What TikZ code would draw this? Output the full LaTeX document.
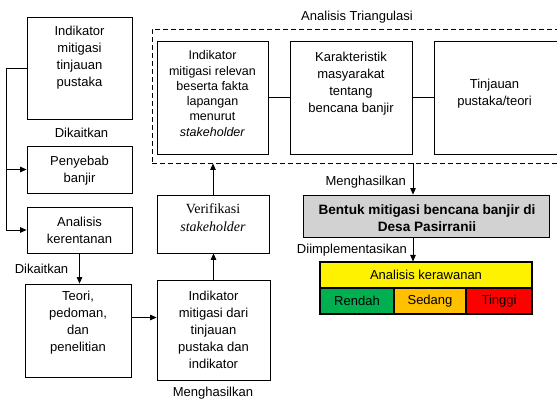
\documentclass[tikz,border=0pt]{standalone}
\usepackage{fontspec}
\setmainfont{Liberation Sans}
\newfontfamily\serifv{Liberation Serif}
\usetikzlibrary{arrows.meta}
\begin{document}
\begin{tikzpicture}[x=1pt,y=-1pt,
  box/.style={draw, line width=0.8pt, inner sep=0pt},
  txt/.style={align=center, inner sep=0pt, font=\fontsize{13}{17}\selectfont},
  lbl/.style={inner sep=0pt, font=\fontsize{13}{17}\selectfont},
  cell/.style={draw, line width=1.1pt, inner sep=0pt, font=\fontsize{13}{17}\selectfont},
  ln/.style={line width=0.9pt},
  arr/.style={line width=0.9pt, -{Triangle[length=6.5pt,width=5.5pt]}},
  dashbox/.style={draw, line width=0.9pt, dash pattern=on 5pt off 3pt, inner sep=0pt}]
\clip (0,0) rectangle (557,401);
\fill[white] (0,0) rectangle (557,401);
% left column boxes
\node[box, minimum width=105pt, minimum height=102pt] (b1) at (79.5,68) {};
\node[txt] (t1) at (79.5,57.5) {Indikator\\mitigasi\\tinjauan\\pustaka};
\node[box, minimum width=105pt, minimum height=47pt] (pb) at (79.5,169.5) {};
\node[txt] (tpb) at (79.5,170.5) {Penyebab\\banjir};
\node[box, minimum width=105pt, minimum height=46pt] (ak) at (79.5,230) {};
\node[txt] (tak) at (79.5,230) {Analisis\\kerentanan};
\node[box, minimum width=106pt, minimum height=93pt] (teo) at (78,330.5) {};
\node[txt] (tteo) at (78,323) {Teori,\\pedoman,\\dan\\penelitian};
% middle column
\node[box, minimum width=113pt, minimum height=100pt] (dari) at (213.5,330) {};
\node[txt] (tdari) at (213.5,330) {Indikator\\mitigasi dari\\tinjauan\\pustaka dan\\indikator};
\node[box, minimum width=112pt, minimum height=58pt] (ver) at (213,224) {};
\node[txt, font=\serifv\fontsize{14}{18}\selectfont] (tver) at (213,218) {Verifikasi\\\textit{stakeholder}};
% triangulation
\node[dashbox, minimum width=413pt, minimum height=134pt] (tri) at (358.5,96) {};
\node[box, minimum width=111pt, minimum height=113pt] (rel) at (212.5,97.5) {};
\node[txt, font=\fontsize{12.5}{15.3}\selectfont] (trel) at (212.5,93.5) {Indikator\\mitigasi relevan\\beserta fakta\\lapangan\\menurut\\\textit{stakeholder}};
\node[box, minimum width=122pt, minimum height=113pt] (kar) at (351,97.5) {};
\node[txt] (tkar) at (351,83.5) {Karakteristik\\masyarakat\\tentang\\bencana banjir};
\node[box, minimum width=124pt, minimum height=113pt] (tin) at (496,97.5) {};
\node[txt] (ttin) at (494.5,94) {Tinjauan\\pustaka/teori};
\node[lbl] (ltri) at (357,17) {Analisis Triangulasi};
% result
\node[box, fill=gray!35, minimum width=246pt, minimum height=42pt] (hasil) at (426,216) {};
\node[txt, font=\bfseries\fontsize{13.6}{17}\selectfont] (thasil) at (427,218.5) {Bentuk mitigasi bencana banjir di\\Desa Pasirranii};
% table
\node[cell, fill=yellow, minimum width=212pt, minimum height=26pt] (kw) at (426,275) {Analisis kerawanan};
\node[cell, fill={rgb,255:red,0;green,176;blue,80}, minimum width=74pt, minimum height=26pt] (ren) at (357,301) {Rendah};
\node[cell, fill={rgb,255:red,255;green,192;blue,0}, minimum width=72pt, minimum height=26pt] (sed) at (430,301) {Sedang};
\node[cell, fill=red, minimum width=66pt, minimum height=26pt] (tgg) at (499,301) {Tinggi};
% labels
\node[lbl] (dk1) at (81.5,133) {Dikaitkan};
\node[lbl] (dk2) at (41.5,269) {Dikaitkan};
\node[lbl] (mh1) at (213,393) {Menghasilkan};
\node[lbl, anchor=east] (mh2) at (406,182) {Menghasilkan};
\node[lbl, anchor=east] (dim) at (407,250) {Diimplementasikan};
% connectors
\coordinate (sp) at (6,0);
\coordinate (ax) at (413,0);
\draw[arr] (b1.west) -| (sp |- ak.west) -- (ak.west);
\draw[arr] (sp |- pb.west) -- (pb.west);
\draw[arr] (ak.south) -- (ak.south |- teo.north);
\draw[arr] ([yshift=13pt]teo.east) -- ([yshift=13pt]teo.east -| dari.west);
\draw[arr] (dari.north) -- (dari.north |- ver.south);
\draw[arr] (ver.north) -- (ver.north |- tri.south);
\draw[ln] (rel.east) -- (kar.west);
\draw[ln] (kar.east) -- (tin.west);
\draw[arr] (tri.south -| ax) -- (hasil.north -| ax);
\draw[arr] (hasil.south -| ax) -- (kw.north -| ax);
\end{tikzpicture}
\end{document}
